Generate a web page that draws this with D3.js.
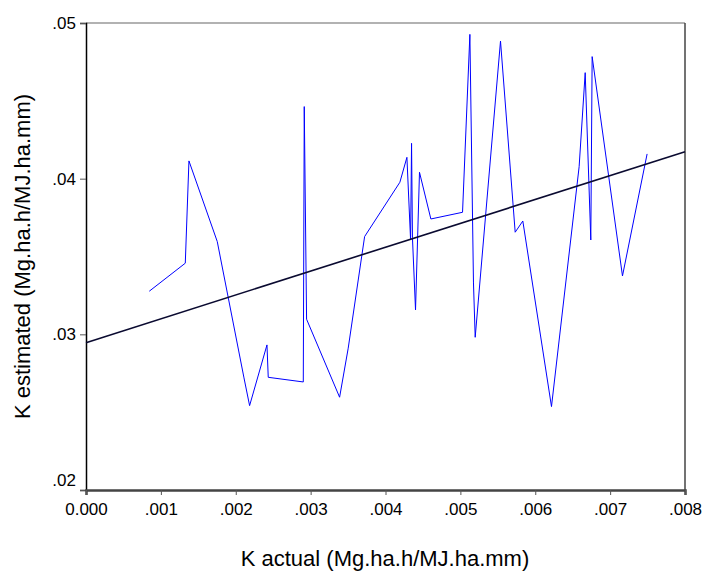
<!DOCTYPE html>
<html>
<head>
<meta charset="utf-8">
<script src="https://cdn.jsdelivr.net/npm/d3@7"></script>
<style>
  body { margin: 0; background: #fff; }
  text { font-family: "Liberation Sans", Arial, sans-serif; }
</style>
</head>
<body>
<script>
// K actual (x) vs K estimated (y), in plotting order
const kActual = [
  0.000845, 0.001326, 0.001375, 0.001753, 0.002110, 0.002185, 0.002417, 0.002434,
  0.002902, 0.002915, 0.002946, 0.003387, 0.003502, 0.003721, 0.004192, 0.004286,
  0.004335, 0.004348, 0.004360, 0.004401, 0.004454, 0.004606, 0.005029, 0.005127,
  0.005175, 0.005198, 0.005536, 0.005732, 0.005834, 0.006217, 0.006586, 0.006667,
  0.006742, 0.006760, 0.007165, 0.007494
];
const kEstimated = [
  0.03277, 0.03457, 0.04114, 0.03596, 0.02720, 0.02542, 0.02932, 0.02724,
  0.02694, 0.04463, 0.03097, 0.02596, 0.02911, 0.03628, 0.03977, 0.04137,
  0.03606, 0.04227, 0.03620, 0.03157, 0.04041, 0.03741, 0.03784, 0.04927,
  0.03330, 0.02981, 0.04884, 0.03656, 0.03728, 0.02536, 0.04077, 0.04681,
  0.03606, 0.04784, 0.03375, 0.04159
];
// fitted line end points
const fitX = [0, 0.008];
const fitY = [0.02946, 0.04173];

const xTicks = [0, 0.001, 0.002, 0.003, 0.004, 0.005, 0.006, 0.007, 0.008];
const yTicks = [0.02, 0.03, 0.04, 0.05];

const w = 704, h = 571;
const margin = {left: 86, right: 19, top: 23, bottom: 81};

const x = d3.scaleLinear().domain([0, 0.008]).range([margin.left, w - margin.right]);
const y = d3.scaleLinear().domain([0.02, 0.05]).range([h - margin.bottom, margin.top]);

const svg = d3.select("body").append("svg")
    .attr("width", w)
    .attr("height", h);

// frame top and right
svg.append("line")
    .attr("x1", x(0)).attr("x2", x(0.008))
    .attr("y1", y(0.05)).attr("y2", y(0.05))
    .attr("stroke", "#666").attr("stroke-width", 1.2);
svg.append("line")
    .attr("x1", x(0.008)).attr("x2", x(0.008))
    .attr("y1", y(0.05)).attr("y2", y(0.02))
    .attr("stroke", "#444").attr("stroke-width", 1.5);

// axes
const yAxis = svg.append("g")
    .attr("transform", `translate(${x(0)},0)`)
    .call(d3.axisLeft(y).tickValues(yTicks).tickSize(6).tickPadding(4)
        .tickFormat(d => d3.format(".2f")(d).replace(/^0/, "")));

const xAxis = svg.append("g")
    .attr("transform", `translate(0,${y(0.02)})`)
    .call(d3.axisBottom(x).tickValues(xTicks).tickSize(5).tickPadding(8)
        .tickFormat(d => d === 0 ? "0.000" : d3.format(".3f")(d).replace(/^0/, "")));

yAxis.select(".domain").attr("stroke", "#000").attr("stroke-width", 1.5);
xAxis.select(".domain").attr("stroke", "#444").attr("stroke-width", 2.5);
svg.selectAll(".tick line").attr("stroke", "#555");
svg.selectAll(".tick text").attr("fill", "#000").style("font-size", "17px");
// lowest y label sits a little above its tick
yAxis.selectAll(".tick").filter(d => d === 0.02).select("text").attr("dy", "-0.27em");

// data line
const line = d3.line().x(d => x(d[0])).y(d => y(d[1]));
svg.append("path")
    .datum(d3.zip(kActual, kEstimated))
    .attr("fill", "none")
    .attr("stroke", "#0000ff")
    .attr("stroke-width", 1)
    .attr("d", line);

// fit line
svg.append("path")
    .datum(d3.zip(fitX, fitY))
    .attr("fill", "none")
    .attr("stroke", "#0a0a30")
    .attr("stroke-width", 1.6)
    .attr("d", line);

// titles
svg.append("text")
    .attr("x", 385)
    .attr("y", 566)
    .attr("text-anchor", "middle")
    .style("font-size", "22px")
    .text("K actual (Mg.ha.h/MJ.ha.mm)");

svg.append("text")
    .attr("transform", `translate(30,${(y(0.02) + y(0.05)) / 2}) rotate(-90)`)
    .attr("text-anchor", "middle")
    .style("font-size", "22px")
    .text("K estimated (Mg.ha.h/MJ.ha.mm)");
</script>
</body>
</html>
